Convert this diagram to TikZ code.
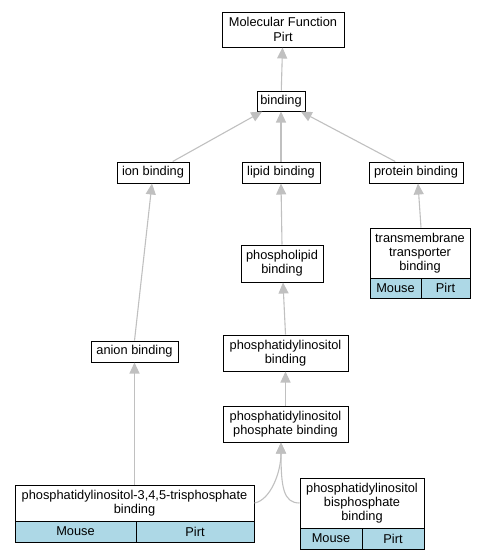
\documentclass[tikz,border=0pt]{standalone}
\usepackage{fontspec}
\setmainfont{Liberation Sans}
\usetikzlibrary{arrows.meta,calc}
\definecolor{cellblue}{HTML}{ADD8E6}
\definecolor{edgegray}{HTML}{C0C0C0}
\tikzset{
  box/.style={draw=black, line width=1pt, fill=white, align=center, inner sep=0pt,
    font=\fontsize{12.8}{14.2}\selectfont},
  cell/.style={box, fill=cellblue},
  edge/.style={draw=edgegray, line width=1.1pt, -{Triangle[length=11pt,width=10pt,fill=edgegray]}},
}
\begin{document}
\begin{tikzpicture}[x=1pt,y=-1pt]
\useasboundingbox (0,0) rectangle (485,560);
% nodes
\node[box, minimum width=122, minimum height=35] (mf) at (283,29.5) {Molecular Function\\Pirt};
\node[box, minimum width=48, minimum height=20] (bind) at (281,101) {binding};
\node[box, minimum width=72, minimum height=21] (ion) at (153,172.5) {ion binding};
\node[box, minimum width=78, minimum height=21] (lipid) at (281,172.5) {lipid binding};
\node[box, minimum width=94, minimum height=21] (prot) at (416,172.5) {protein binding};
% transmembrane table
\node[box, minimum width=100, minimum height=50] (tmh) at (420,253) {transmembrane\\transporter\\binding};
\node[cell, minimum width=51, minimum height=20] (tmm) at (395.5,288) {Mouse};
\node[cell, minimum width=49, minimum height=20] (tmp) at (445.5,288) {Pirt};
\node[box, minimum width=82, minimum height=37] (phl) at (282,263.5) {phospholipid\\binding};
\node[box, minimum width=87, minimum height=21] (anion) at (134.5,351.5) {anion binding};
\node[box, minimum width=125, minimum height=36] (pi) at (285.5,353) {phosphatidylinositol\\binding};
\node[box, minimum width=125, minimum height=36] (pip) at (285.5,424) {phosphatidylinositol\\phosphate binding};
% PIP3 table
\node[box, minimum width=239, minimum height=36] (p3h) at (134.5,503) {phosphatidylinositol-3,4,5-trisphosphate\\binding};
\node[cell, minimum width=121, minimum height=21] (p3m) at (75.5,531.5) {Mouse};
\node[cell, minimum width=118, minimum height=21] (p3p) at (195,531.5) {Pirt};
% PIP2 table
\node[box, minimum width=124, minimum height=50] (p2h) at (362,503) {phosphatidylinositol\\bisphosphate\\binding};
\node[cell, minimum width=62, minimum height=21] (p2m) at (331,538.5) {Mouse};
\node[cell, minimum width=62, minimum height=21] (p2p) at (393,538.5) {Pirt};
% edges
\draw[edge] (bind) -- (mf);
\draw[edge] (ion) -- (bind);
\draw[edge] (lipid) -- (bind);
\draw[edge] (prot) -- (bind);
\draw[edge] ($(tmh.north)+(1,0)$) -- ($(prot.south)+(2,0)$);
\draw[edge] (phl.north) -- ($(lipid.south)+(0,0)$);
\draw[edge] (anion.north) -- ($(ion.south)+(-1,0)$);
\draw[edge] (pi.north) -- ($(phl.south)+(1,0)$);
\draw[edge] (pip.north) -- (pi.south);
\draw[edge] (p3h.north) -- (anion.south);
\coordinate (piptip) at ($(pip.south)+(-4.5,0)$);
\draw[edge] (p3h.east) .. controls ($(p3h.east)+(16,-3)$) and ($(piptip)+(0,30)$) .. (piptip);
\draw[edge] (p2h.west) .. controls ($(p2h.west)+(-16,0)$) and ($(piptip)+(0,45)$) .. (piptip);
\end{tikzpicture}
\end{document}
